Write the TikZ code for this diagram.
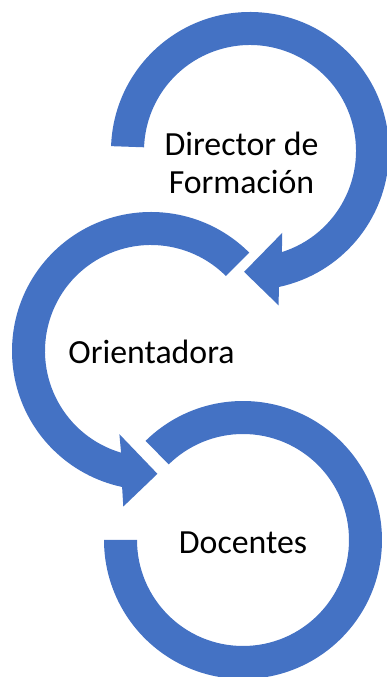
\documentclass[tikz,border=0pt]{standalone}
\usepackage{fontspec}
\setmainfont{Carlito}
\definecolor{arrowblue}{HTML}{4472C4}
\begin{document}
\begin{tikzpicture}[x=1pt,y=1pt,
  band/.style={fill=arrowblue},
  label/.style={anchor=base,inner sep=0pt,font=\fontsize{33.8}{38}\selectfont,text=black}]
\clip (0,0) rectangle (387,677);
\useasboundingbox (0,0) rectangle (387,677);
% top arrow
\begin{scope}[shift={(250,526)}]
\fill[band] (178:139) arc[start angle=178, end angle=-78, radius=139]
  -- (-79.5:157) -- (-92.8:121) -- (-68.5:88) -- (-72.5:106)
  arc[start angle=-72.5, end angle=178, radius=106] -- cycle;
\end{scope}
% middle arrow
\begin{scope}[shift={(151,326)}]
\fill[band] (45:139) arc[start angle=45, end angle=258, radius=139]
  -- (259.9:158) -- (273:123) -- (249.2:89) -- (253.6:106)
  arc[start angle=253.6, end angle=45, radius=106] -- cycle;
\end{scope}
% bottom arc
\begin{scope}[shift={(243,137)}]
\fill[band] (134.5:139) arc[start angle=134.5, end angle=-180, radius=139]
  -- (-180:106) arc[start angle=-180, end angle=134.5, radius=106] -- cycle;
\end{scope}
\node[label] (dir) at (241.5,521) {\begin{tabular}[t]{@{}c@{}}Director de\\Formación\end{tabular}};
\node[label] (ori) at (151.5,313) {Orientadora};
\node[label] (doc) at (243,123) {Docentes};
\end{tikzpicture}
\end{document}
